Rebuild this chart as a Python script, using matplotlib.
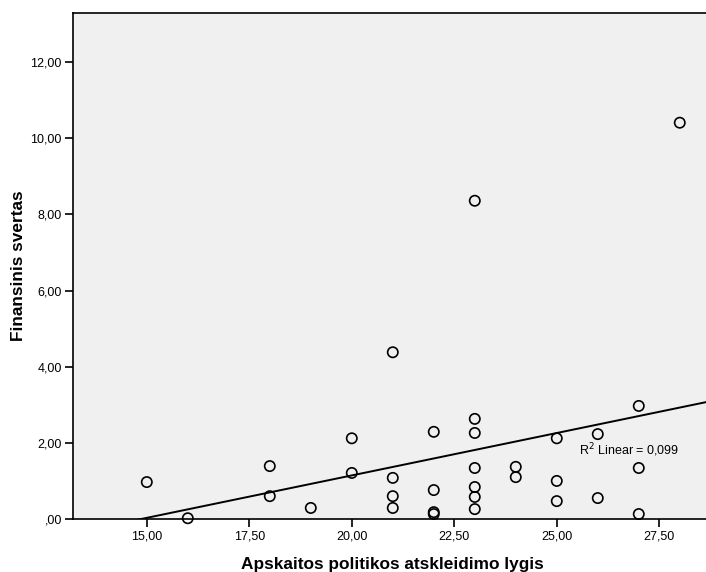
import numpy as np
import matplotlib
matplotlib.use("Agg")
import matplotlib.pyplot as plt

plt.rcParams['font.family'] = ['Liberation Sans', 'DejaVu Sans']

# Data
x_vals = [15, 16, 18, 18, 19, 20, 20, 21, 21, 21, 21, 22, 22, 22, 22,
          23, 23, 23, 23, 23, 23, 23, 24, 24, 25, 25, 25, 26, 26, 27, 27, 27, 28]
y_vals = [0.97, 0.02, 1.39, 0.60, 0.29, 2.12, 1.21, 4.38, 1.08, 0.60, 0.29,
          2.29, 0.76, 0.18, 0.13, 8.36, 2.63, 2.26, 1.34, 0.84, 0.58, 0.26,
          1.37, 1.10, 2.12, 1.00, 0.47, 2.23, 0.55, 2.97, 1.34, 0.13, 10.41]
x_ticks = [15, 17.5, 20, 22.5, 25, 27.5]
x_ticklabels = ["15,00", "17,50", "20,00", "22,50", "25,00", "27,50"]
y_ticks = [0, 2, 4, 6, 8, 10, 12]
y_ticklabels = [",00", "2,00", "4,00", "6,00", "8,00", "10,00", "12,00"]
r2_label = "R$^2$ Linear = 0,099"

W, H = 706, 572
fig = plt.figure(figsize=(W / 100, H / 100), dpi=100)
ax = fig.add_axes([73 / W, (H - 519) / H, (706 - 73) / W, (519 - 12.7) / H])
ax.set_facecolor('#f0f0f0')

xlim = (13.2, 28.64)
ylim = (0, 13.3)
ax.set_xlim(*xlim)
ax.set_ylim(*ylim)

x = np.array(x_vals, float)
y = np.array(y_vals, float)
slope, intercept = np.polyfit(x, y, 1)
xs = np.linspace(xlim[0], xlim[1], 200)
ax.plot(xs, slope * xs + intercept, color='black', lw=1.4, zorder=2)

ax.scatter(x, y, s=55, facecolors='none', edgecolors='black', linewidths=1.2, zorder=3, clip_on=False)

ax.text(25.55, 1.82, r2_label, fontsize=9, va='center', ha='left')

ax.set_xticks(x_ticks)
ax.set_xticklabels(x_ticklabels)
ax.set_yticks(y_ticks)
ax.set_yticklabels(y_ticklabels)
ax.tick_params(axis='both', direction='out', length=6, width=1.2, labelsize=9, colors='black', pad=2)

for s in ['left', 'bottom', 'top']:
    ax.spines[s].set_linewidth(1.2)
    ax.spines[s].set_color('black')
ax.spines['right'].set_visible(False)

xl = ax.set_xlabel("Apskaitos politikos atskleidimo lygis", fontsize=12.4, fontweight='bold')
ax.xaxis.set_label_coords((392 - 73) / 633, (519 - 569) / 506.3)
xl.set_va('baseline')
yl = ax.set_ylabel("Finansinis svertas", fontsize=12.4, fontweight='bold')
ax.yaxis.set_label_coords((18.5 - 73) / 633, (519 - 265.5) / 506.3)
yl.set_va('center')

fig.savefig("out.png", dpi=100)
